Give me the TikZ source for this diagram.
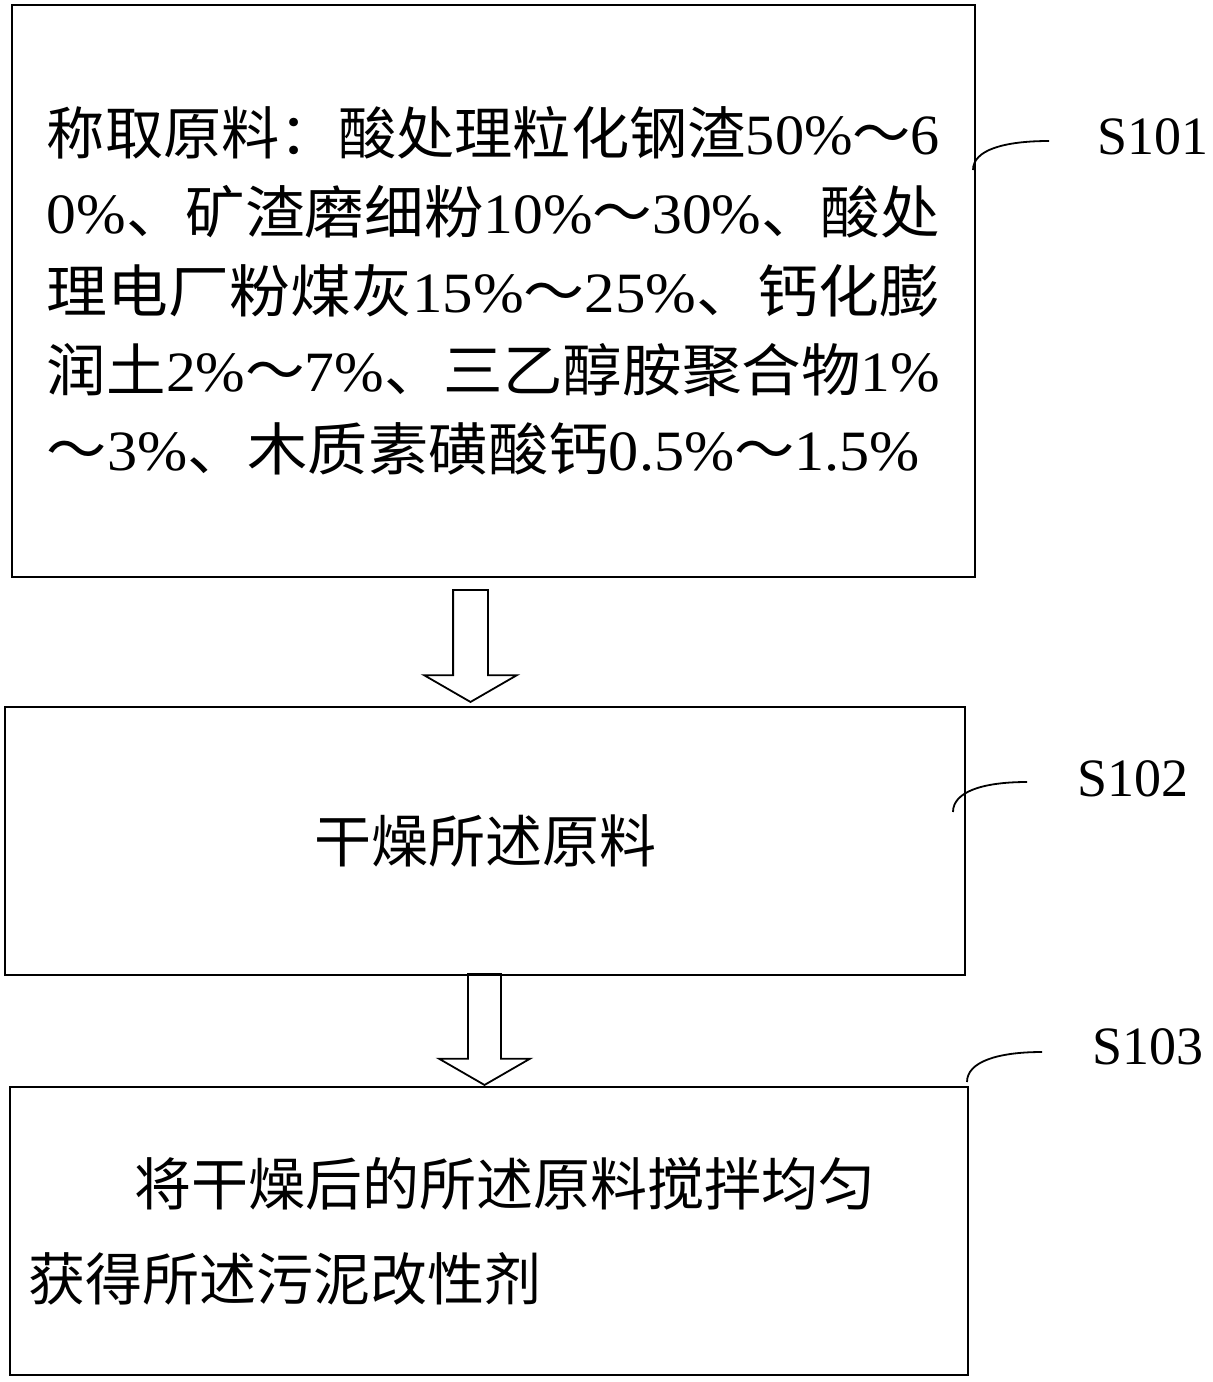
\documentclass[tikz,border=0pt]{standalone}
\usepackage{fontspec}
\usepackage{graphicx}
\usetikzlibrary{shapes.arrows}
\newfontfamily\cjk{Noto Sans CJK SC}
\newfontfamily\lat{Liberation Serif}
\newcommand{\dg}[1]{{\lat #1}}
\newcommand{\fitline}[2]{\resizebox{#1}{\height}{#2}}
\begin{document}
\begin{tikzpicture}[x=0.5pt, y=-0.5pt, line width=0.9pt,
	txt/.style={font=\cjk\fontsize{28.5}{39.5}\selectfont, inner sep=0pt},
	lbl/.style={font=\lat\fontsize{27}{32}\selectfont, inner sep=0pt},
	blockarrow/.style={draw, single arrow, rotate=-90, anchor=tip, inner xsep=0pt, inner ysep=8.25pt,
		minimum height=56pt, minimum width=45.5pt,
		single arrow head extend=14.5pt, single arrow tip angle=120}]
	\useasboundingbox (0,0) rectangle (1213,1382);
	\begin{scope}[every node/.style={draw, rectangle, txt}]
		\node (s101)[minimum width=481.5pt, minimum height=286pt, align=left] at (493.5,291) {%
			\fitline{446.5pt}{称取原料：酸处理粒化钢渣\dg{50\%}～\dg{6}}\\
			\fitline{446.5pt}{\dg{0\%}、矿渣磨细粉\dg{10\%}～\dg{30\%}、酸处}\\
			\fitline{446.5pt}{理电厂粉煤灰\dg{15\%}～\dg{25\%}、钙化膨}\\
			\fitline{446.5pt}{润土\dg{2\%}～\dg{7\%}、三乙醇胺聚合物\dg{1\%}}\\
			\fitline{436.5pt}{～\dg{3\%}、木质素磺酸钙\dg{0.5\%}～\dg{1.5\%}}};
		\node (s102)[minimum width=480pt, minimum height=134pt] at (485,841) {干燥所述原料};
		\node (s103)[minimum width=479pt, minimum height=144pt] at (489,1231) {};
	\end{scope}
	\node (t103)[txt, font=\cjk\fontsize{28.5}{47.5}\selectfont, anchor=west, align=left] at (28,1231)
		{\hspace*{1.85em}将干燥后的所述原料搅拌均匀\\获得所述污泥改性剂};
	% step labels
	\node (l101)[lbl] at (1153,137) {S101};
	\node (l102)[lbl] at (1133,779) {S102};
	\node (l103)[lbl] at (1148,1047) {S103};
	\coordinate (c101a) at (973,170);
	\coordinate (c101b) at (1049,141);
	\coordinate (c102a) at (953,812);
	\coordinate (c102b) at (1027,782);
	\coordinate (c103a) at (967,1082);
	\coordinate (c103b) at (1042,1052);
	\draw (c101a) .. controls +(0,-20) and +(-45,0) .. (c101b);
	\draw (c102a) .. controls +(0,-20) and +(-45,0) .. (c102b);
	\draw (c103a) .. controls +(0,-20) and +(-45,0) .. (c103b);
	% hollow arrows
	\node (a1)[blockarrow] at (470.5,703) {};
	\node (a2)[blockarrow, minimum height=55.5pt, inner ysep=7.75pt] at (484.5,1086) {};
\end{tikzpicture}
\end{document}
